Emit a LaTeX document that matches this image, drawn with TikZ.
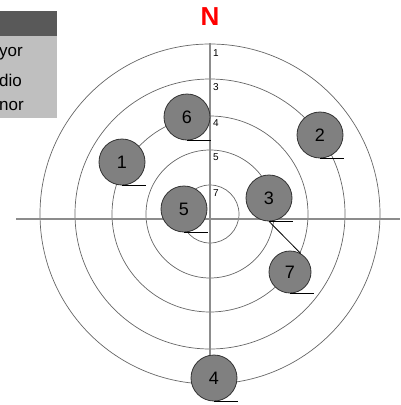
\documentclass[tikz,border=0pt]{standalone}
\usepackage{fontspec}
\setmainfont{Liberation Sans}
\usetikzlibrary{positioning}

\tikzset{
  ring/.style={draw=black!60, line width=0.7pt},
  axe/.style={draw=black!45, line width=1.4pt},
  puesto/.style={circle, draw=black!80, fill=black!50, line width=0.8pt,
    minimum size=46pt, inner sep=0pt, font=\fontsize{18}{18}\selectfont},
  nivel/.style={anchor=west, inner sep=0pt, font=\fontsize{10}{10}\selectfont},
  leyenda/.style={anchor=west, inner sep=0pt, font=\fontsize{17}{17}\selectfont}
}

\begin{document}
\begin{tikzpicture}[x=1pt, y=-1pt]

\useasboundingbox (0,0) rectangle (400,405);

\def\cx{210}
\def\cy{214}

% legend
\fill[black!65] (0,11) rectangle (57,36);
\fill[black!25] (0,36) rectangle (57,118);
\node[leyenda] (may) at (-1,54) {yor};
\node[leyenda] (med) at (-1,80) {dio};
\node[leyenda] (men) at (-1,106) {nor};

% north
\node[text=red, font=\fontsize{26}{26}\selectfont\bfseries] (norte) at (210,17) {N};

% rings
\foreach \r in {170,135,98,64,29}
  \draw[ring] (\cx,\cy) circle (\r);

% axes
\coordinate (ejeN) at (\cx,43);
\coordinate (ejeO) at (16,219);
\coordinate (ejeE) at (400,219);
\draw[axe] (ejeO) -- (ejeE);

% ring labels
\node[nivel] (l1) at (213,53) {1};
\node[nivel] (l3) at (213,87) {3};
\node[nivel] (l4) at (213,123) {4};
\node[nivel] (l5) at (213,157) {5};
\node[nivel] (l7) at (213,193) {7};

% stations
\node[puesto] (p4) at (214,378) {4};
\draw[axe] (ejeN) -- (p4.north -| ejeN);
\node[puesto] (p6) at (187,117) {6};
\node[puesto] (p1) at (122,162) {1};
\node[puesto] (p5) at (184,209) {5};
\node[puesto] (p3) at (269,198) {3};
\node[puesto] (p2) at (320,135) {2};
\node[puesto, minimum size=42pt] (p7) at (290,272) {7};

\draw[black, line width=0.8pt] (p3.south) -- (p7.60);

\foreach \p in {p1,p2,p3,p4,p5,p6,p7}
  \draw[black, line width=0.8pt] (\p.south) -- ++(24,0);

\end{tikzpicture}
\end{document}
